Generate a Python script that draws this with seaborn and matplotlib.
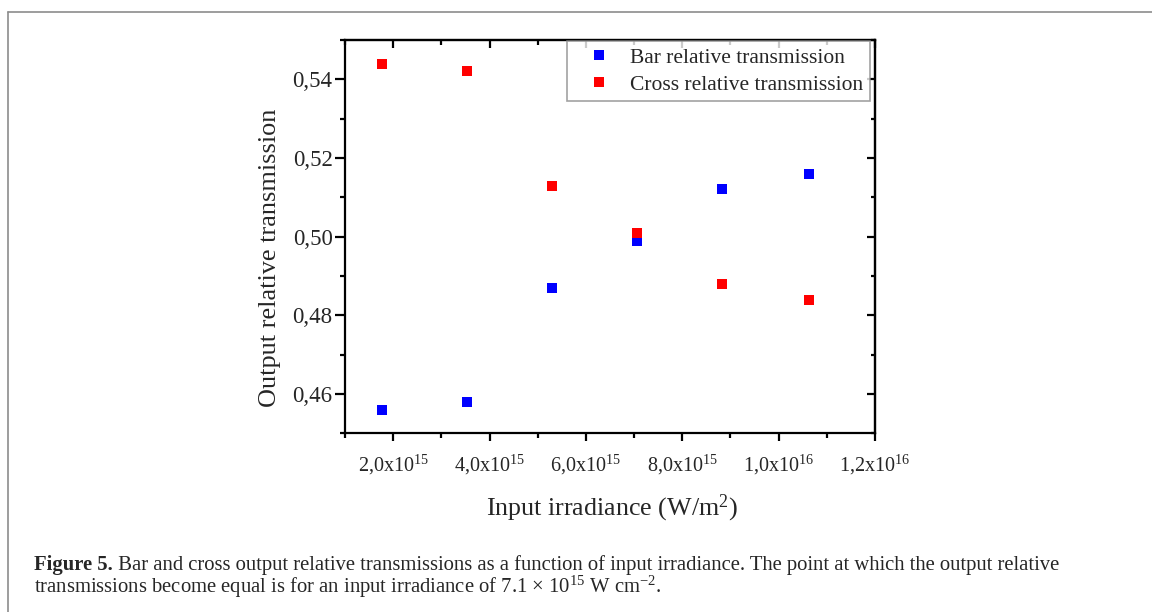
import matplotlib
matplotlib.use("Agg")
import matplotlib.pyplot as plt
import seaborn as sns
import pandas as pd
from matplotlib.lines import Line2D
from matplotlib.ticker import FixedLocator, MultipleLocator, NullFormatter

# ---- data -------------------------------------------------------------
irradiance = [1.76e15, 3.53e15, 5.30e15, 7.07e15, 8.83e15, 1.062e16]
bar_transmission = [0.456, 0.458, 0.487, 0.499, 0.512, 0.516]
cross_transmission = [0.544, 0.542, 0.513, 0.501, 0.488, 0.484]
series_names = ["Bar relative transmission", "Cross relative transmission"]
series_colors = ["#0000ff", "#ff0000"]

x_ticks = [2e15, 4e15, 6e15, 8e15, 1e16, 1.2e16]
x_tick_labels = [r"2,0x10$^{\mathregular{15}}$", r"4,0x10$^{\mathregular{15}}$",
                 r"6,0x10$^{\mathregular{15}}$", r"8,0x10$^{\mathregular{15}}$",
                 r"1,0x10$^{\mathregular{16}}$", r"1,2x10$^{\mathregular{16}}$"]
y_ticks = [0.46, 0.48, 0.50, 0.52, 0.54]
y_tick_labels = ["0,46", "0,48", "0,50", "0,52", "0,54"]

x_label = r"Input irradiance (W/m$^{\mathregular{2}}$)"
y_label = "Output relative transmission"
caption_head = "Figure 5."
caption_line1 = (" Bar and cross output relative transmissions as a function of input "
                 "irradiance. The point at which the output relative")
caption_line2 = (r"transmissions become equal is for an input irradiance of 7.1 $\times$ "
                 r"10$^{\mathregular{15}}$ W cm$^{\mathregular{-2}}$.")

# ---- style ------------------------------------------------------------
sns.set_style("white")
plt.rcParams["font.family"] = ["Liberation Serif", "DejaVu Serif"]
plt.rcParams["mathtext.fontset"] = "custom"
plt.rcParams["mathtext.rm"] = "Liberation Serif"
plt.rcParams["mathtext.it"] = "Liberation Serif:italic"
plt.rcParams["mathtext.bf"] = "Liberation Serif:bold"
plt.rcParams["axes.unicode_minus"] = True

W, H = 1152, 612
fig = plt.figure(figsize=(W / 100, H / 100), dpi=100)
fig.patch.set_facecolor("white")

left, right, top, bottom = 345, 875, 40, 433.3
ax = fig.add_axes([left / W, 1 - bottom / H, (right - left) / W, (bottom - top) / H])

df = pd.DataFrame({
    "irradiance": irradiance + irradiance,
    "transmission": bar_transmission + cross_transmission,
    "series": [series_names[0]] * len(irradiance) + [series_names[1]] * len(irradiance),
})
sns.scatterplot(data=df, x="irradiance", y="transmission", hue="series",
                palette=dict(zip(series_names, series_colors)), marker="s",
                s=52, linewidth=0, ax=ax, zorder=3, legend=False)

ax.set_xlim(1e15, 1.2e16)
ax.set_ylim(0.45, 0.55)

for sp in ax.spines.values():
    sp.set_visible(True)
    sp.set_color("black")
    sp.set_linewidth(1.6)

ax.xaxis.set_major_locator(FixedLocator(x_ticks))
ax.set_xticklabels(x_tick_labels)
ax.xaxis.set_minor_locator(MultipleLocator(1e15))
ax.yaxis.set_major_locator(FixedLocator(y_ticks))
ax.set_yticklabels(y_tick_labels)
ax.yaxis.set_minor_locator(MultipleLocator(0.01))

ax.tick_params(axis="x", which="major", direction="out", length=6, width=1.6,
               labelsize=14.5, pad=8, bottom=True, top=False, color="black")
ax.tick_params(axis="x", which="minor", direction="out", length=3.8, width=1.6,
               bottom=True, top=False, color="black")
ax.tick_params(axis="y", which="major", direction="out", length=7, width=1.6,
               labelsize=16.5, pad=2, left=True, right=False, color="black")
ax.tick_params(axis="y", which="minor", direction="out", length=3.8, width=1.6,
               left=True, right=False, color="black")

# inward ticks on the top and right frame edges
topx = ax.secondary_xaxis("top")
topx.xaxis.set_major_locator(FixedLocator(x_ticks))
topx.xaxis.set_minor_locator(MultipleLocator(1e15))
topx.xaxis.set_major_formatter(NullFormatter())
topx.tick_params(which="major", direction="in", length=6, width=1.6, color="black")
topx.tick_params(which="minor", direction="in", length=3.8, width=1.6, color="black")
topx.spines["top"].set_linewidth(1.6)

righty = ax.secondary_yaxis("right")
righty.yaxis.set_major_locator(FixedLocator(y_ticks))
righty.yaxis.set_minor_locator(MultipleLocator(0.01))
righty.yaxis.set_major_formatter(NullFormatter())
righty.tick_params(which="major", direction="in", length=5.5, width=1.6, color="black")
righty.tick_params(which="minor", direction="in", length=3.2, width=1.6, color="black")
righty.spines["right"].set_linewidth(1.6)

ax.set_xlabel(x_label, fontsize=18.7)
ax.xaxis.set_label_coords((612 - left) / (right - left), (bottom - 493) / (bottom - top))
ax.set_ylabel(y_label, fontsize=18.9)
ax.yaxis.set_label_coords((281 - left) / (right - left), (bottom - 258) / (bottom - top))

handles = [Line2D([], [], marker="s", linestyle="", color=c, markersize=6.5,
                  markeredgewidth=0) for c in series_colors]
leg = ax.legend(handles, series_names, loc="upper right",
                bbox_to_anchor=((870 - left) / (right - left), (bottom - 41.5) / (bottom - top)),
                borderaxespad=0, frameon=True, fancybox=False, fontsize=15.5,
                handlelength=2.4, handletextpad=0.25, borderpad=0.3,
                labelspacing=0.3, edgecolor="#8a8a8a")
leg.get_frame().set_linewidth(1.2)
leg.set_zorder(5)

# page frame
fig.add_artist(Line2D([8 / W, 8 / W], [0, 1 - 12 / H], transform=fig.transFigure,
                      color="#8c8c8c", lw=1.2))
fig.add_artist(Line2D([8 / W, 1], [1 - 12 / H, 1 - 12 / H], transform=fig.transFigure,
                      color="#8c8c8c", lw=1.2))

# caption
cap_size = 14.9
head = fig.text(34 / W, 1 - 570 / H, caption_head, fontsize=cap_size, weight="bold",
                va="baseline", ha="left")
fig.canvas.draw()
bb = head.get_window_extent(fig.canvas.get_renderer())
fig.text(bb.x1 / W, 1 - 570 / H, caption_line1, fontsize=cap_size, va="baseline", ha="left")
fig.text(34 / W, 1 - 593 / H, caption_line2, fontsize=cap_size, va="baseline", ha="left")

fig.savefig("out.png", dpi=100, facecolor="white")
